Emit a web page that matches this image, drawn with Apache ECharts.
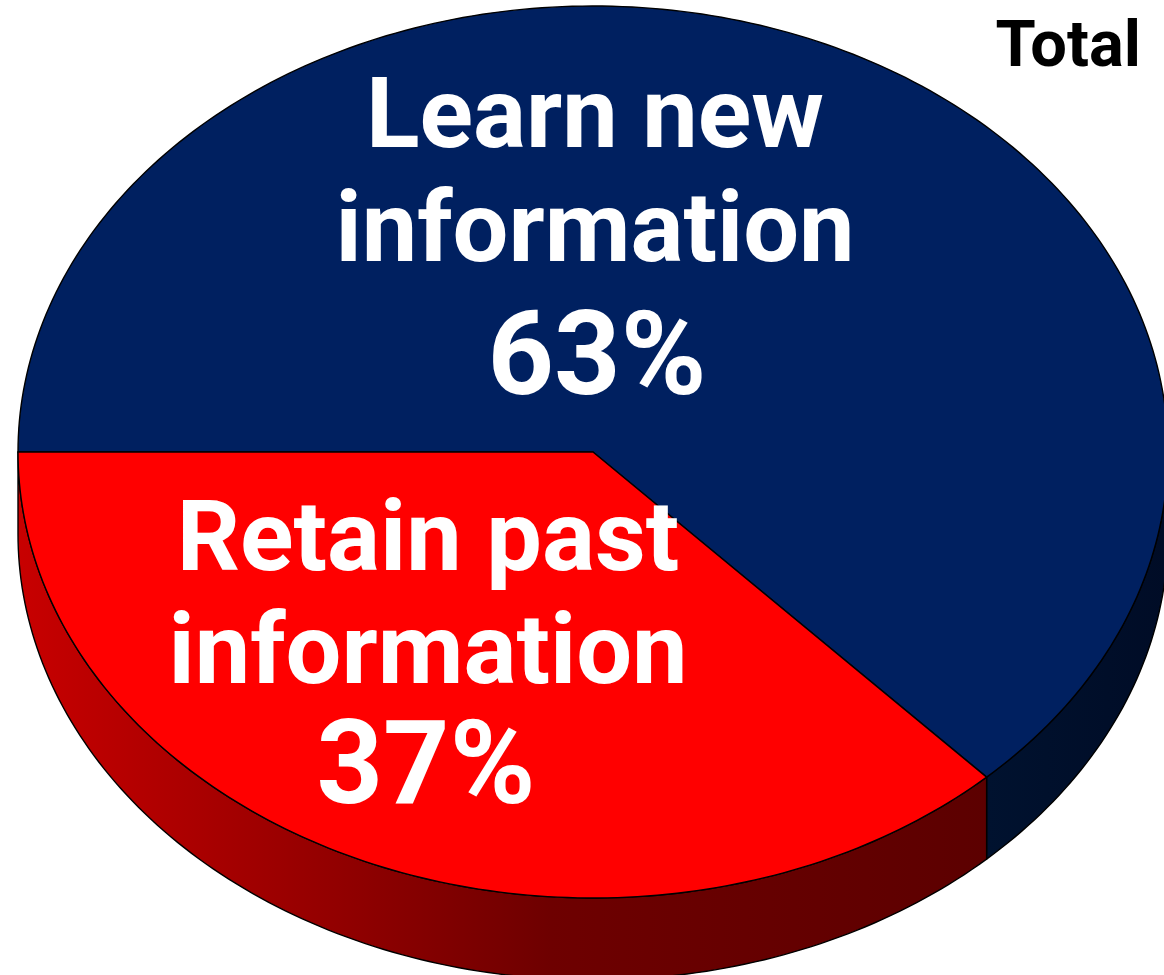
<!DOCTYPE html>
<html>
<head>
<meta charset="utf-8">
<script src="https://cdn.jsdelivr.net/npm/echarts@6/dist/echarts.min.js"></script>
<style>
  html, body { margin: 0; padding: 0; background: #ffffff; }
  #chart { width: 1164px; height: 975px; }
</style>
</head>
<body>
<div id="chart"></div>
<script>
// Share of answers per category
const categories = ['Learn new\ninformation', 'Retain past\ninformation'];
const shares = [63, 37];
const chartTitle = 'Total';

// Slice styling
const topColors = ['#002060', '#FF0000'];
const sideFills = [
  new echarts.graphic.LinearGradient(0, 0, 1, 0, [
    { offset: 0, color: '#00122F' },
    { offset: 1, color: '#000C26' }
  ]),
  new echarts.graphic.LinearGradient(0, 0, 1, 0, [
    { offset: 0, color: '#C80000' },
    { offset: 0.55, color: '#6E0000' },
    { offset: 1, color: '#5C0000' }
  ])
];

// Tilted-disc geometry (screen pixels)
const PIE = { cx: 593, cy: 452, rx: 575, ry: 446, depth: 82, start: 180 };
// Where each slice's name block and percentage sit
const NAME_ANCHORS = [{ x: 595, y: 65, lh: 114 }, { x: 428, y: 489, lh: 113 }];
const PCT_ANCHORS = [{ x: 597, y: 307 }, { x: 426, y: 716 }];
const FONT = 'Roboto, "DejaVu Sans", sans-serif';
const NAME_SIZE = 99;
const PCT_SIZE = 116;

const total = shares.reduce((a, b) => a + b, 0);

function ellipsePoint(deg, drop) {
  const r = deg * Math.PI / 180;
  return [PIE.cx + PIE.rx * Math.cos(r), PIE.cy + drop + PIE.ry * Math.sin(r)];
}
function arcPoints(a1, a2, drop) {
  const n = Math.max(2, Math.ceil(Math.abs(a2 - a1)));
  const pts = [];
  for (let i = 0; i <= n; i++) pts.push(ellipsePoint(a1 + (a2 - a1) * i / n, drop));
  return pts;
}

function renderSlice(params, api) {
  const i = params.dataIndex;
  let before = 0;
  for (let k = 0; k < i; k++) before += shares[k];
  const a1 = PIE.start + before / total * 360;
  const a2 = a1 + api.value(0) / total * 360;
  const children = [];

  // Front wall: the part of the slice that faces the viewer (0..180 deg, y down)
  for (let k = -360; k <= 720; k += 360) {
    const s = Math.max(a1, k), e = Math.min(a2, k + 180);
    if (e > s) {
      children.push({
        type: 'polygon',
        z2: 0,
        shape: { points: arcPoints(s, e, 0).concat(arcPoints(e, s, PIE.depth)) },
        style: { fill: sideFills[i], stroke: '#000', lineWidth: 1.4, lineJoin: 'round' }
      });
    }
  }

  // Top face
  children.push({
    type: 'polygon',
    z2: 10,
    shape: { points: [[PIE.cx, PIE.cy]].concat(arcPoints(a1, a2, 0)) },
    style: { fill: topColors[i], stroke: '#000', lineWidth: 1.4, lineJoin: 'round' }
  });

  // Slice labels: name and percentage
  const na = NAME_ANCHORS[i], pa = PCT_ANCHORS[i];
  children.push({
    type: 'text',
    z2: 20,
    x: na.x,
    y: na.y,
    style: {
      text: categories[i],
      align: 'center',
      verticalAlign: 'top',
      fill: '#ffffff',
      fontFamily: FONT,
      fontWeight: 'bold',
      fontSize: NAME_SIZE,
      lineHeight: na.lh
    }
  });
  children.push({
    type: 'text',
    z2: 20,
    x: pa.x,
    y: pa.y,
    style: {
      text: api.value(0) + '%',
      align: 'center',
      verticalAlign: 'top',
      fill: '#ffffff',
      fontFamily: FONT,
      fontWeight: 'bold',
      fontSize: PCT_SIZE,
      lineHeight: PCT_SIZE
    }
  });

  return { type: 'group', children: children };
}

const chart = echarts.init(document.getElementById('chart'), null, { renderer: 'canvas' });
chart.setOption({
  animation: false,
  backgroundColor: '#ffffff',
  title: {
    text: chartTitle,
    right: 18,
    top: 12,
    textStyle: { fontFamily: FONT, fontWeight: 'bold', fontSize: 65, color: '#000000' }
  },
  series: [{
    type: 'custom',
    coordinateSystem: 'none',
    renderItem: renderSlice,
    data: shares.map((v, i) => ({ name: categories[i], value: v }))
  }]
});
</script>
</body>
</html>
